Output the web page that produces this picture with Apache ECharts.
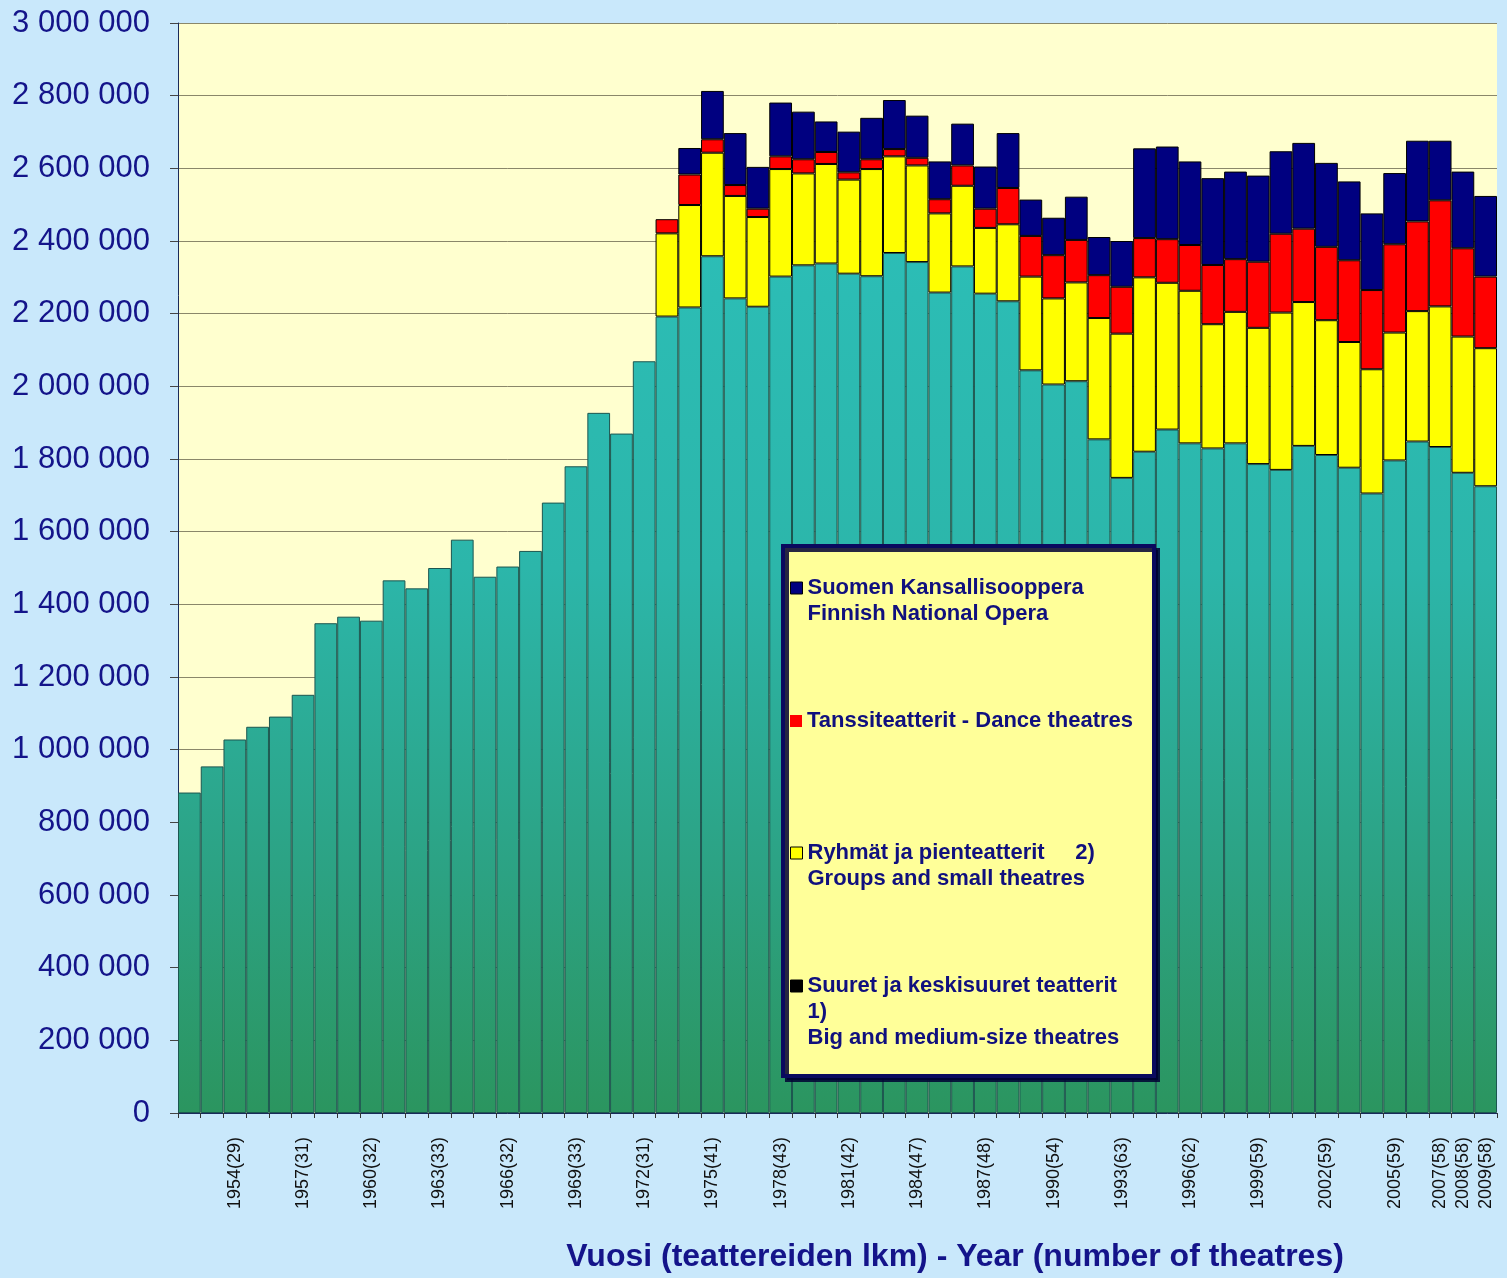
<!DOCTYPE html>
<html>
<head>
<meta charset="utf-8">
<script src="https://cdn.jsdelivr.net/npm/echarts@6/dist/echarts.min.js"></script>
<style>
  html, body { margin: 0; padding: 0; background: #c9e8fb; }
  #chart { width: 1507px; height: 1278px; }
</style>
</head>
<body>
<div id="chart"></div>
<script>
const categories = ['1952','1953','1954','1955','1956','1957','1958','1959','1960','1961','1962','1963','1964','1965','1966','1967','1968','1969','1970','1971','1972','1973','1974','1975','1976','1977','1978','1979','1980','1981','1982','1983','1984','1985','1986','1987','1988','1989','1990','1991','1992','1993','1994','1995','1996','1997','1998','1999','2000','2001','2002','2003','2004','2005','2006','2007','2008','2009'];

const tickLabels = ['','','1954(29)','','','1957(31)','','','1960(32)','','','1963(33)','','','1966(32)','','','1969(33)','','','1972(31)','','','1975(41)','','','1978(43)','','','1981(42)','','','1984(47)','','','1987(48)','','','1990(54)','','','1993(63)','','','1996(62)','','','1999(59)','','','2002(59)','','','2005(59)','','2007(58)','2008(58)','2009(58)'];

const yTicks = [0, 200000, 400000, 600000, 800000, 1000000, 1200000, 1400000, 1600000, 1800000, 2000000, 2200000, 2400000, 2600000, 2800000, 3000000];

// Suuret ja keskisuuret teatterit (big and medium-size)
const bigTheatres = [882000, 954000, 1028000, 1063000, 1091000, 1151000, 1348000, 1366000, 1355000, 1466000, 1444000, 1500000, 1578000, 1476000, 1504000, 1547000, 1680000, 1780000, 1927000, 1870000, 2069000,
  2192000, 2217000, 2358000, 2242000, 2219000, 2302000, 2333000, 2338000, 2310000, 2303000, 2367000, 2342000, 2258000, 2330000, 2255000, 2234000, 2044000, 2005000, 2014000, 1854000, 1748000, 1820000, 1881000, 1843000, 1829000, 1843000, 1786000, 1770000, 1836000, 1811000, 1776000, 1705000, 1796000, 1848000, 1833000, 1762000, 1725000];

// Ryhmät ja pienteatterit (groups and small theatres)
const smallTheatres = [null, null, null, null, null, null, null, null, null, null, null, null, null, null, null, null, null, null, null, null, null,
  229000, 282000, 285000, 282000, 247000, 296000, 253000, 274000, 259000, 295000, 266000, 266000, 218000, 222000, 181000, 212000, 258000, 237000, 272000, 334000, 397000, 480000, 404000, 420000, 342000, 362000, 375000, 433000, 396000, 371000, 346000, 342000, 352000, 359000, 387000, 375000, 380000];

// Tanssiteatterit (dance theatres)
const danceTheatres = [null, null, null, null, null, null, null, null, null, null, null, null, null, null, null, null, null, null, null, null, null,
  39000, 84000, 37000, 30000, 23000, 35000, 39000, 33000, 20000, 27000, 20000, 21000, 39000, 56000, 53000, 100000, 112000, 119000, 117000, 118000, 129000, 108000, 120000, 126000, 163000, 145000, 182000, 217000, 202000, 202000, 225000, 218000, 243000, 247000, 292000, 243000, 197000];

// Suomen Kansallisooppera (Finnish National Opera)
const nationalOpera = [null, null, null, null, null, null, null, null, null, null, null, null, null, null, null, null, null, null, null, null, null,
  null, 73000, 133000, 143000, 115000, 148000, 131000, 84000, 112000, 114000, 135000, 116000, 104000, 115000, 116000, 151000, 100000, 103000, 119000, 105000, 126000, 247000, 255000, 230000, 239000, 241000, 237000, 227000, 236000, 231000, 217000, 211000, 196000, 222000, 164000, 211000, 222000];

const NAME_OPERA = 'Suomen Kansallisooppera\nFinnish National Opera';
const NAME_DANCE = 'Tanssiteatterit - Dance theatres';
const NAME_SMALL = 'Ryhmät ja pienteatterit     2)\nGroups and small theatres';
const NAME_BIG = 'Suuret ja keskisuuret teatterit\n1)\nBig and medium-size theatres';

const FONT = "'Liberation Sans', Arial, sans-serif";
const NAVY = '#14148a';
const LH = 26;
const ICON = 12;

function fmt(v) {
  return String(v).replace(/\B(?=(\d{3})+(?!\d))/g, ' ');
}

// One legend per entry; the key square is aligned with the first text line.
function legendFor(name, firstLineCenter, lines, iconStyle) {
  const h = ICON + (lines - 1) * LH;
  const icon = lines === 1 ? 'rect'
    : 'path://M0,0L' + ICON + ',0L' + ICON + ',' + ICON + 'L0,' + ICON + 'Z M0,' + h;
  return {
    show: true,
    orient: 'vertical',
    left: 790,
    top: firstLineCenter - LH / 2,
    padding: 0,
    itemWidth: ICON,
    itemHeight: h,
    itemGap: 0,
    icon: icon,
    selectedMode: false,
    data: [{ name: name, itemStyle: iconStyle }],
    textStyle: {
      fontFamily: FONT,
      fontSize: 22,
      fontWeight: 'bold',
      color: '#10107e',
      lineHeight: LH
    }
  };
}

const chart = echarts.init(document.getElementById('chart'));

const tealGradient = {
  type: 'linear', x: 0, y: 23, x2: 0, y2: 1114, global: true,
  colorStops: [
    { offset: 0, color: '#2cc2be' },
    { offset: 0.5, color: '#2cb6aa' },
    { offset: 0.78, color: '#2ca283' },
    { offset: 1, color: '#2b955f' }
  ]
};

chart.setOption({
  backgroundColor: '#c9e8fb',
  animation: false,
  grid: {
    left: 178, right: 10, top: 23, bottom: 164,
    show: true, backgroundColor: '#ffffcf', borderWidth: 0
  },
  legend: [
    legendFor(NAME_OPERA, 588, 2, { color: '#000080', borderColor: '#000', borderWidth: 1 }),
    legendFor(NAME_DANCE, 721, 1, { color: '#ff0000', borderWidth: 0 }),
    legendFor(NAME_SMALL, 853, 2, { color: '#ffff00', borderColor: '#000', borderWidth: 1 }),
    legendFor(NAME_BIG, 986, 3, { color: '#000000', borderColor: '#000', borderWidth: 1 })
  ],
  graphic: [{
    type: 'rect',
    z: 3,
    shape: { x: 783, y: 546, width: 371, height: 530 },
    style: {
      fill: '#ffff99',
      stroke: '#0a0a5e',
      lineWidth: 4,
      shadowColor: 'rgba(0,0,50,0.85)',
      shadowOffsetX: 4,
      shadowOffsetY: 4,
      shadowBlur: 0
    }
  }],
  xAxis: {
    type: 'category',
    data: categories,
    boundaryGap: true,
    name: 'Vuosi (teattereiden lkm) - Year (number of theatres)',
    nameLocation: 'middle',
    nameGap: 128,
    nameTextStyle: {
      fontFamily: FONT, fontSize: 32, fontWeight: 'bold', color: NAVY,
      padding: [0, 0, 0, 235]
    },
    axisLine: { show: true, lineStyle: { color: '#1a2a5a', width: 1 } },
    axisTick: { show: true, interval: 0, length: 5, lineStyle: { color: '#333' } },
    axisLabel: {
      interval: 0, rotate: 90, margin: 24,
      fontFamily: FONT, fontSize: 18, color: '#111',
      formatter: function (v, i) { return tickLabels[i]; }
    },
    splitLine: { show: false }
  },
  yAxis: {
    type: 'value',
    min: yTicks[0],
    max: yTicks[yTicks.length - 1],
    interval: yTicks[1] - yTicks[0],
    axisLine: { show: true, lineStyle: { color: '#1a2a5a', width: 1 } },
    axisTick: { show: true, length: 8, lineStyle: { color: '#444' } },
    axisLabel: {
      margin: 28, fontFamily: FONT, fontSize: 31, color: NAVY,
      formatter: fmt
    },
    splitLine: { show: true, lineStyle: { color: '#8a876a', width: 1 } }
  },
  series: [
    {
      name: NAME_BIG, type: 'bar', stack: 'total', data: bigTheatres,
      barCategoryGap: '0%',
      itemStyle: { color: tealGradient, borderColor: '#1c5650', borderWidth: 1 }
    },
    {
      name: NAME_SMALL, type: 'bar', stack: 'total', data: smallTheatres,
      barCategoryGap: '0%',
      itemStyle: { color: '#ffff00', borderColor: '#000', borderWidth: 1 }
    },
    {
      name: NAME_DANCE, type: 'bar', stack: 'total', data: danceTheatres,
      barCategoryGap: '0%',
      itemStyle: { color: '#ff0000', borderColor: '#000', borderWidth: 1 }
    },
    {
      name: NAME_OPERA, type: 'bar', stack: 'total', data: nationalOpera,
      barCategoryGap: '0%',
      itemStyle: { color: '#000080', borderColor: '#000', borderWidth: 1 }
    }
  ]
});
</script>
</body>
</html>
